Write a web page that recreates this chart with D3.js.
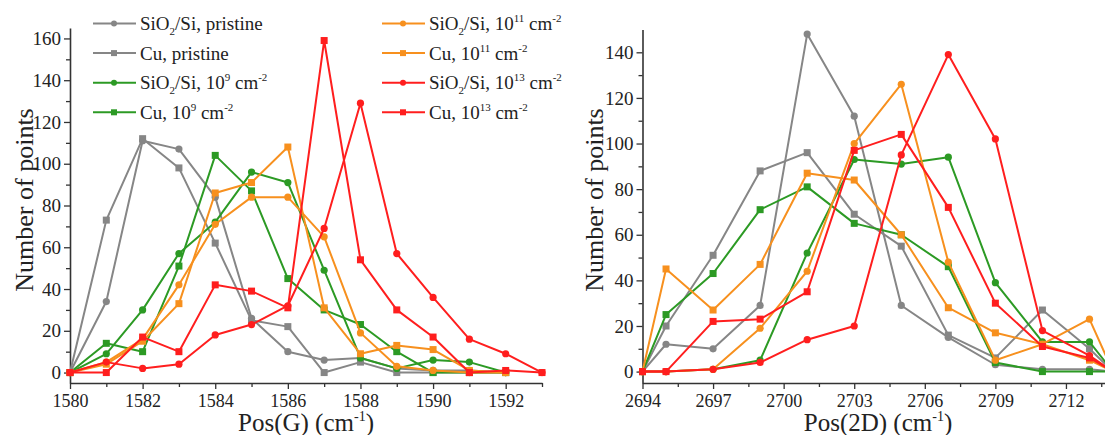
<!DOCTYPE html>
<html>
<head>
<meta charset="utf-8">
<script src="https://cdn.jsdelivr.net/npm/d3@7"></script>
<style>
  body { margin: 0; background: #fff; }
  .axis path, .axis line { stroke: #333; }
  .axis path { stroke-width: 1.6; }
  .axis line { stroke-width: 1.3; }
</style>
</head>
<body>
<div id="chart"></div>
<script>
// Positions mesurées (cm-1)
const posG = [1580, 1581, 1582, 1583, 1584, 1585, 1586, 1587, 1588, 1589, 1590, 1591, 1592, 1593];
const pos2D = [2694, 2695, 2697, 2699, 2701, 2703, 2705, 2707, 2709, 2711, 2713, 2714];

// Pic G : nombre de points
const gSiPristine = [0, 34, 111, 107, 84, 26, 10, 6, 7, 2, 1, 1, 0];
const gCuPristine = [0, 73, 112, 98, 62, 25, 22, 0, 5, 0, 0, 0, 0];
const gSi1e9 = [0, 9, 30, 57, 72, 96, 91, 49, 7, 2, 6, 5, 0];
const gCu1e9 = [0, 14, 10, 51, 104, 87, 45, 30, 23, 10, 0, 0, 0];
const gSi1e11 = [0, 5, 16, 42, 71, 84, 84, 65, 19, 3, 1, 0, 0];
const gCu1e11 = [0, 4, 15, 33, 86, 91, 108, 31, 9, 13, 11, 1, 0];
const gSi1e13 = [0, 5, 2, 4, 18, 23, 32, 69, 129, 57, 36, 16, 9, 0];
const gCu1e13 = [0, 0, 17, 10, 42, 39, 31, 159, 54, 30, 17, 0, 1, 0];

// Pic 2D : nombre de points
const dSiPristine = [0, 12, 10, 29, 148, 112, 29, 15, 3, 1, 1, 0];
const dCuPristine = [0, 20, 51, 88, 96, 69, 55, 16, 6, 27, 10, 0];
const dSi1e9 = [0, 0, 1, 5, 52, 93, 91, 94, 39, 13, 13, 0];
const dCu1e9 = [0, 25, 43, 71, 81, 65, 60, 46, 4, 0, 0, 0];
const dSi1e11 = [0, 0, 1, 19, 44, 100, 126, 48, 5, 12, 23, 0];
const dCu1e11 = [0, 45, 27, 47, 87, 84, 60, 28, 17, 12, 5, 0];
const dSi1e13 = [0, 0, 1, 4, 14, 20, 95, 139, 102, 18, 7, 0];
const dCu1e13 = [0, 0, 22, 23, 35, 97, 104, 72, 30, 11, 6, 0];

// Légende : substrat et dose
const substrats = ["SiO2/Si", "Cu", "SiO2/Si", "Cu", "SiO2/Si", "Cu", "SiO2/Si", "Cu"];
const doses = ["pristine", "pristine", "9", "9", "11", "11", "13", "13"];

// Ticks
const ticksG = [1580, 1582, 1584, 1586, 1588, 1590, 1592];
const ticks2D = [2694, 2697, 2700, 2703, 2706, 2709, 2712];
const ticksYG = [0, 20, 40, 60, 80, 100, 120, 140, 160];
const ticksY2D = [0, 20, 40, 60, 80, 100, 120, 140];

const couleurs = ["#868686", "#868686", "#2c9a24", "#2c9a24", "#f7901e", "#f7901e", "#ff1e1e", "#ff1e1e"];
const symboles = ["circle", "square", "circle", "square", "circle", "square", "circle", "square"];

const seriesG = [gSiPristine, gCuPristine, gSi1e9, gCu1e9, gSi1e11, gCu1e11, gSi1e13, gCu1e13];
const series2D = [dSiPristine, dCuPristine, dSi1e9, dCu1e9, dSi1e11, dCu1e11, dSi1e13, dCu1e13];

const police = "'Liberation Serif', 'Times New Roman', Times, 'DejaVu Serif', serif";

const width = 1105, height = 435;
const svg = d3.select("#chart").append("svg")
    .attr("width", width).attr("height", height)
    .attr("font-family", police);

function panel(xs, series, xDomain, xRange, yDomain, yRange, xTicks, xMinor, yTicks, yMinor) {
    const x = d3.scaleLinear().domain(xDomain).range(xRange);
    const y = d3.scaleLinear().domain(yDomain).range(yRange);

    const g = svg.append("g");

    // axes mineurs
    g.append("g").attr("class", "axis")
        .attr("transform", `translate(0,${yRange[0]})`)
        .call(d3.axisBottom(x).tickValues(xMinor).tickSize(4).tickFormat(""))
        .select(".domain").remove();
    g.append("g").attr("class", "axis")
        .attr("transform", `translate(${xRange[0]},0)`)
        .call(d3.axisLeft(y).tickValues(yMinor).tickSize(4).tickFormat(""))
        .select(".domain").remove();

    // axes majeurs
    g.append("g").attr("class", "axis")
        .attr("transform", `translate(0,${yRange[0]})`)
        .call(d3.axisBottom(x).tickValues(xTicks).tickSize(6).tickSizeOuter(0).tickPadding(5).tickFormat(d3.format("d")))
        .attr("font-family", police).attr("font-size", 18)
        .selectAll("text").attr("fill", "#222");
    g.append("g").attr("class", "axis")
        .attr("transform", `translate(${xRange[0]},0)`)
        .call(d3.axisLeft(y).tickValues(yTicks).tickSize(6).tickSizeOuter(0).tickPadding(3).tickFormat(d3.format("d")))
        .attr("font-family", police).attr("font-size", 19)
        .selectAll("text").attr("fill", "#222");

    const line = d3.line().x((d, i) => x(xs[i])).y(d => y(d));

    series.forEach((vals, k) => {
        const s = g.append("g");
        s.append("path")
            .datum(vals)
            .attr("fill", "none")
            .attr("stroke", couleurs[k])
            .attr("stroke-width", 2)
            .attr("stroke-linejoin", "round")
            .attr("d", line);
        const pts = vals.map((v, i) => [xs[i], v]);
        if (symboles[k] === "circle") {
            s.selectAll("circle").data(pts).enter().append("circle")
                .attr("cx", d => x(d[0])).attr("cy", d => y(d[1]))
                .attr("r", 3.6).attr("fill", couleurs[k]);
        } else {
            s.selectAll("rect").data(pts).enter().append("rect")
                .attr("x", d => x(d[0]) - 3.5).attr("y", d => y(d[1]) - 3.5)
                .attr("width", 7).attr("height", 7).attr("fill", couleurs[k]);
        }
    });
    return { x, y };
}

panel(posG, seriesG, [1580, 1593], [70, 542], [-5, 165], [383, 28],
    ticksG, d3.range(1581, 1594, 2), ticksYG, d3.range(10, 165, 20));
panel(pos2D, series2D, [2694, 2714], [642.5, 1113], [-5, 150], [383, 29.5],
    ticks2D, d3.range(2695.5, 2714, 3), ticksY2D, d3.range(10, 150, 20));

// Titres des axes
function titreX(cx, label) {
    const t = svg.append("text")
        .attr("x", cx).attr("y", 431)
        .attr("text-anchor", "middle")
        .attr("font-family", police)
        .attr("font-size", 25).attr("fill", "#222");
    t.append("tspan").text(label + " (cm");
    t.append("tspan").attr("font-size", 14).attr("dy", -10).text("-1");
    t.append("tspan").attr("dy", 10).text(")");
}
titreX(306, "Pos(G)");
titreX(878, "Pos(2D)");

[33, 603].forEach(bx => {
    svg.append("text")
        .attr("transform", `translate(${bx},200) rotate(-90)`)
        .attr("text-anchor", "middle")
        .attr("font-family", police)
        .attr("font-size", 26).attr("fill", "#222")
        .text("Number of points");
});

// Légende
const legX = [93, 382];
substrats.forEach((sub, k) => {
    const col = k < 4 ? 0 : 1;
    const row = k % 4;
    const lx = legX[col];
    const ly = 23.5 + row * 29.6;
    const lg = svg.append("g");
    lg.append("line")
        .attr("x1", lx).attr("x2", lx + 43)
        .attr("y1", ly).attr("y2", ly)
        .attr("stroke", couleurs[k]).attr("stroke-width", 2);
    if (symboles[k] === "circle") {
        lg.append("circle").attr("cx", lx + 21).attr("cy", ly).attr("r", 3).attr("fill", couleurs[k]);
    } else {
        lg.append("rect").attr("x", lx + 18).attr("y", ly - 3).attr("width", 6).attr("height", 6).attr("fill", couleurs[k]);
    }
    const t = lg.append("text")
        .attr("x", lx + 47).attr("y", ly + 6.5)
        .attr("font-family", police)
        .attr("font-size", 19).attr("fill", "#222");
    if (sub === "SiO2/Si") {
        t.append("tspan").text("SiO");
        t.append("tspan").attr("font-size", 11).attr("dy", 5).text("2");
        t.append("tspan").attr("dy", -5).text("/Si, ");
    } else {
        t.append("tspan").text("Cu, ");
    }
    if (doses[k] === "pristine") {
        t.append("tspan").text("pristine");
    } else {
        t.append("tspan").text("10");
        t.append("tspan").attr("font-size", 11).attr("dy", -8).text(doses[k]);
        t.append("tspan").attr("dy", 8).text(" cm");
        t.append("tspan").attr("font-size", 11).attr("dy", -8).text("-2");
    }
});
</script>
</body>
</html>
